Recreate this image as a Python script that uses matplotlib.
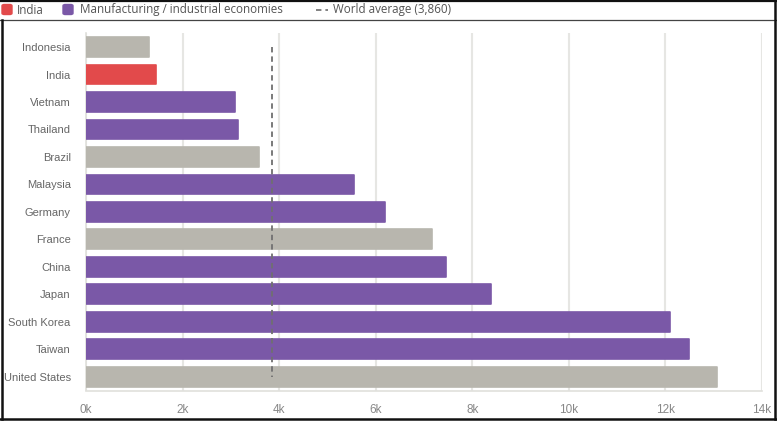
import matplotlib
matplotlib.use("Agg")
import matplotlib.pyplot as plt
from matplotlib.patches import FancyBboxPatch
from matplotlib.lines import Line2D

# data
countries = ["Indonesia", "India", "Vietnam", "Thailand", "Brazil", "Malaysia",
             "Germany", "France", "China", "Japan", "South Korea", "Taiwan",
             "United States"]
values = [1310, 1440, 3090, 3140, 3580, 5550, 6190, 7160, 7460, 8380,
          12090, 12480, 13060]
groups = ["other", "india", "mfg", "mfg", "other", "mfg", "mfg", "other",
          "mfg", "mfg", "mfg", "mfg", "other"]
world_avg = 3860
xticks = [0, 2000, 4000, 6000, 8000, 10000, 12000, 14000]
xtick_labels = ["0k", "2k", "4k", "6k", "8k", "10k", "12k", "14k"]

colors = {"other": "#b8b6ae", "india": "#e24a4b", "mfg": "#7a58a7"}

W, H = 777, 423
fig = plt.figure(figsize=(W / 100, H / 100), dpi=100)
fig.patch.set_facecolor("white")

def fx(px):
    return px / W

def fy(py):
    return 1 - py / H

ax = fig.add_axes([fx(86), fy(390.5), fx(762) - fx(86), fy(33.3) - fy(390.5)])
ax.set_facecolor("white")

pos = list(range(len(countries)))
bars = ax.barh(pos, values, height=0.72,
               color=[colors[g] for g in groups],
               edgecolor=[colors[g] for g in groups],
               linewidth=1.2, joinstyle="round", zorder=3)

ax.set_ylim(len(countries) - 0.5, -0.5)
ax.set_xlim(0, 14000)

# world average line from the first bar centre to the last
ax.plot([world_avg, world_avg], [0, len(countries) - 1], color="#707070",
        lw=1.3, dashes=(3, 2.2), zorder=4)

ax.set_xticks(xticks)
ax.set_xticklabels(xtick_labels)
ax.set_yticks(pos)
ax.set_yticklabels(countries)
ax.grid(axis="x", color="#e6e6e3", lw=1.5, zorder=0)
ax.set_axisbelow(True)
for s in ["top", "right"]:
    ax.spines[s].set_visible(False)
ax.spines["left"].set_color("#e0e0dc")
ax.spines["bottom"].set_color("#e0e0dc")
ax.spines["left"].set_linewidth(1.2)
ax.spines["bottom"].set_linewidth(1.2)
ax.tick_params(axis="both", length=0)
ax.tick_params(axis="y", pad=11, labelsize=8, labelcolor="#666666")
ax.tick_params(axis="x", pad=10, labelsize=8.5, labelcolor="#888888")
for lab in ax.get_xticklabels() + ax.get_yticklabels():
    lab.set_family(["Liberation Sans", "DejaVu Sans"])

# legend drawn by hand across the top
leg_font = ["Open Sans", "DejaVu Sans"]
leg_size = 8.4
ly = fy(10)
fig.patches.append(FancyBboxPatch((fx(2), fy(14.5)), fx(10), fy(4.5) - fy(14.5),
                                  boxstyle="round,pad=0,rounding_size=0.003",
                                  transform=fig.transFigure, color=colors["india"]))
fig.text(fx(17), ly, "India", fontsize=leg_size, color="#555555", va="center", family=leg_font)
fig.patches.append(FancyBboxPatch((fx(63), fy(14.5)), fx(10), fy(4.5) - fy(14.5),
                                  boxstyle="round,pad=0,rounding_size=0.003",
                                  transform=fig.transFigure, color=colors["mfg"]))
fig.text(fx(80), ly, "Manufacturing / industrial economies", fontsize=leg_size,
         color="#555555", va="center", family=leg_font)
fig.lines.append(Line2D([fx(316), fx(328)], [ly, ly], transform=fig.transFigure,
                        color="#777777", lw=1.3, dashes=(3, 2.2)))
fig.text(fx(333), ly, "World average (3,860)", fontsize=leg_size, color="#555555",
         va="center", family=leg_font)

# screenshot frame
fig.lines.append(Line2D([0, 1], [fy(0.8), fy(0.8)], transform=fig.transFigure,
                        color="#111111", lw=1.6))
fig.lines.append(Line2D([0, 1], [fy(20), fy(20)], transform=fig.transFigure,
                        color="#444444", lw=0.9))
fig.lines.append(Line2D([fx(1.5), fx(1.5)], [fy(20), fy(419)], transform=fig.transFigure,
                        color="#111111", lw=1.8))
fig.lines.append(Line2D([fx(774.5), fx(774.5)], [fy(0), fy(419)], transform=fig.transFigure,
                        color="#111111", lw=1.8))
fig.lines.append(Line2D([0, 1], [fy(419), fy(419)], transform=fig.transFigure,
                        color="#111111", lw=1.8))

fig.savefig("out.png", dpi=100, facecolor="white")
